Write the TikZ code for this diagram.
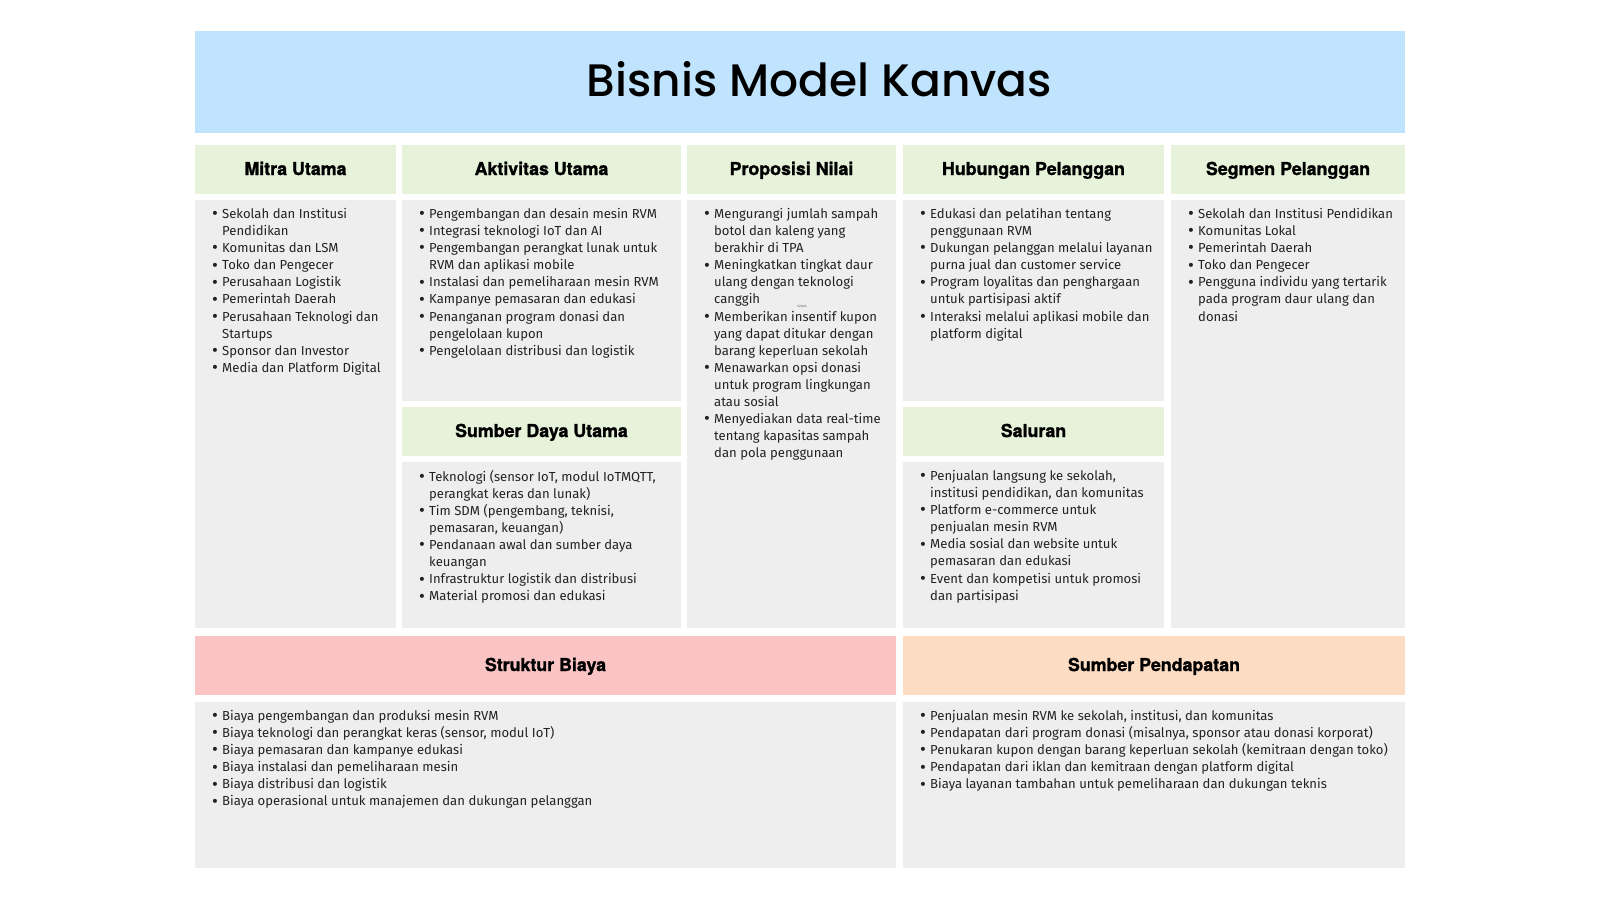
\documentclass[tikz,border=0pt]{standalone}
\usepackage{fontspec}
\setmainfont{Fira Sans}
\newfontfamily\headfont{TeX Gyre Heros Bold}[FakeBold=1.4]
\newfontfamily\titlefont{Poppins Medium}
\definecolor{bmcblue}{HTML}{C0E4FD}
\definecolor{bmcgreen}{HTML}{E6F2DA}
\definecolor{bmcgray}{HTML}{EEEEEE}
\definecolor{bmcpink}{HTML}{FBC4C4}
\definecolor{bmcpeach}{HTML}{FDDCC4}
\definecolor{bmctext}{HTML}{222222}
\newcommand{\bl}{\makebox[10pt][l]{\raisebox{-1.3pt}{\fontsize{18}{18}\selectfont\textbullet}}}
\newcommand{\cn}{\hspace*{10pt}}

\begin{document}
\begin{tikzpicture}[x=1pt, y=-1pt,
    hdrtext/.style={font=\headfont\fontsize{17.8}{20}\selectfont, anchor=base, inner sep=0pt},
    itemlist/.style={font=\fontsize{13.1}{17.1}\selectfont, text=bmctext, align=left, anchor=north west, inner sep=0pt}]
  \useasboundingbox (0,0) rectangle (1600,900);
  \fill[white] (0,0) rectangle (1600,900);
  % title band
  \fill[bmcblue] (195,31) rectangle (1405,133);
  \node[font=\titlefont\fontsize{45.5}{50}\selectfont, anchor=base, inner sep=0pt] (title) at (819.5,96) {Bisnis Model Kanvas};
  % mitra utama
  \fill[bmcgreen] (195,145) rectangle (396,194);
  \fill[bmcgray] (195,200) rectangle (396,628);
  \node[hdrtext] (mitra) at (295.5,175) {Mitra Utama};
  \node[itemlist] (mitraT) at (212,208) {\bl Sekolah dan Institusi\\ \cn Pendidikan\\ \bl Komunitas dan LSM\\ \bl Toko dan Pengecer\\ \bl Perusahaan Logistik\\ \bl Pemerintah Daerah\\ \bl Perusahaan Teknologi dan\\ \cn Startups\\ \bl Sponsor dan Investor\\ \bl Media dan Platform Digital};
  % aktivitas utama
  \fill[bmcgreen] (402,145) rectangle (681,194);
  \fill[bmcgray] (402,200) rectangle (681,401);
  \node[hdrtext] (aktivitas) at (541.5,175) {Aktivitas Utama};
  \node[itemlist] (aktivitasT) at (419,208) {\bl Pengembangan dan desain mesin RVM\\ \bl Integrasi teknologi IoT dan AI\\ \bl Pengembangan perangkat lunak untuk\\ \cn RVM dan aplikasi mobile\\ \bl Instalasi dan pemeliharaan mesin RVM\\ \bl Kampanye pemasaran dan edukasi\\ \bl Penanganan program donasi dan\\ \cn pengelolaan kupon\\ \bl Pengelolaan distribusi dan logistik};
  % sumber daya utama
  \fill[bmcgreen] (402,407) rectangle (681,456);
  \fill[bmcgray] (402,462) rectangle (681,628);
  \node[hdrtext] (sumberdaya) at (541.5,437) {Sumber Daya Utama};
  \node[itemlist] (sumberdayaT) at (419,470) {\bl Teknologi (sensor IoT, modul IoTMQTT,\\ \cn perangkat keras dan lunak)\\ \bl Tim SDM (pengembang, teknisi,\\ \cn pemasaran, keuangan)\\ \bl Pendanaan awal dan sumber daya\\ \cn keuangan\\ \bl Infrastruktur logistik dan distribusi\\ \bl Material promosi dan edukasi};
  % proposisi nilai
  \fill[bmcgreen] (687,145) rectangle (896,194);
  \fill[bmcgray] (687,200) rectangle (896,628);
  \node[hdrtext] (proposisi) at (791.5,175) {Proposisi Nilai};
  \node[itemlist] (proposisiT) at (704,208) {\bl Mengurangi jumlah sampah\\ \cn botol dan kaleng yang\\ \cn berakhir di TPA\\ \bl Meningkatkan tingkat daur\\ \cn ulang dengan teknologi\\ \cn canggih\\ \bl Memberikan insentif kupon\\ \cn yang dapat ditukar dengan\\ \cn barang keperluan sekolah\\ \bl Menawarkan opsi donasi\\ \cn untuk program lingkungan\\ \cn atau sosial\\ \bl Menyediakan data real-time\\ \cn tentang kapasitas sampah\\ \cn dan pola penggunaan};
  \node[font=\fontsize{3.5}{4}\selectfont, text=black!60, inner sep=0pt] (mark) at (802,306) {e2eab};
  % hubungan pelanggan
  \fill[bmcgreen] (903,145) rectangle (1164,194);
  \fill[bmcgray] (903,200) rectangle (1164,401);
  \node[hdrtext] (hubungan) at (1033.5,175) {Hubungan Pelanggan};
  \node[itemlist] (hubunganT) at (920,208) {\bl Edukasi dan pelatihan tentang\\ \cn penggunaan RVM\\ \bl Dukungan pelanggan melalui layanan\\ \cn purna jual dan customer service\\ \bl Program loyalitas dan penghargaan\\ \cn untuk partisipasi aktif\\ \bl Interaksi melalui aplikasi mobile dan\\ \cn platform digital};
  % saluran
  \fill[bmcgreen] (903,407) rectangle (1164,456);
  \fill[bmcgray] (903,462) rectangle (1164,628);
  \node[hdrtext] (saluran) at (1033.5,437) {Saluran};
  \node[itemlist] (saluranT) at (920,470) {\bl Penjualan langsung ke sekolah,\\ \cn institusi pendidikan, dan komunitas\\ \bl Platform e-commerce untuk\\ \cn penjualan mesin RVM\\ \bl Media sosial dan website untuk\\ \cn pemasaran dan edukasi\\ \bl Event dan kompetisi untuk promosi\\ \cn dan partisipasi};
  % segmen pelanggan
  \fill[bmcgreen] (1171,145) rectangle (1405,194);
  \fill[bmcgray] (1171,200) rectangle (1405,628);
  \node[hdrtext] (segmen) at (1288,175) {Segmen Pelanggan};
  \node[itemlist] (segmenT) at (1188,208) {\bl Sekolah dan Institusi Pendidikan\\ \bl Komunitas Lokal\\ \bl Pemerintah Daerah\\ \bl Toko dan Pengecer\\ \bl Pengguna individu yang tertarik\\ \cn pada program daur ulang dan\\ \cn donasi};
  % struktur biaya
  \fill[bmcpink] (195,636) rectangle (896,695);
  \fill[bmcgray] (195,702) rectangle (896,868);
  \node[hdrtext] (struktur) at (545.5,671) {Struktur Biaya};
  \node[itemlist] (strukturT) at (212,710) {\bl Biaya pengembangan dan produksi mesin RVM\\ \bl Biaya teknologi dan perangkat keras (sensor, modul IoT)\\ \bl Biaya pemasaran dan kampanye edukasi\\ \bl Biaya instalasi dan pemeliharaan mesin\\ \bl Biaya distribusi dan logistik\\ \bl Biaya operasional untuk manajemen dan dukungan pelanggan};
  % sumber pendapatan
  \fill[bmcpeach] (903,636) rectangle (1405,695);
  \fill[bmcgray] (903,702) rectangle (1405,868);
  \node[hdrtext] (pendapatan) at (1154,671) {Sumber Pendapatan};
  \node[itemlist] (pendapatanT) at (920,710) {\bl Penjualan mesin RVM ke sekolah, institusi, dan komunitas\\ \bl Pendapatan dari program donasi (misalnya, sponsor atau donasi korporat)\\ \bl Penukaran kupon dengan barang keperluan sekolah (kemitraan dengan toko)\\ \bl Pendapatan dari iklan dan kemitraan dengan platform digital\\ \bl Biaya layanan tambahan untuk pemeliharaan dan dukungan teknis};
\end{tikzpicture}
\end{document}
